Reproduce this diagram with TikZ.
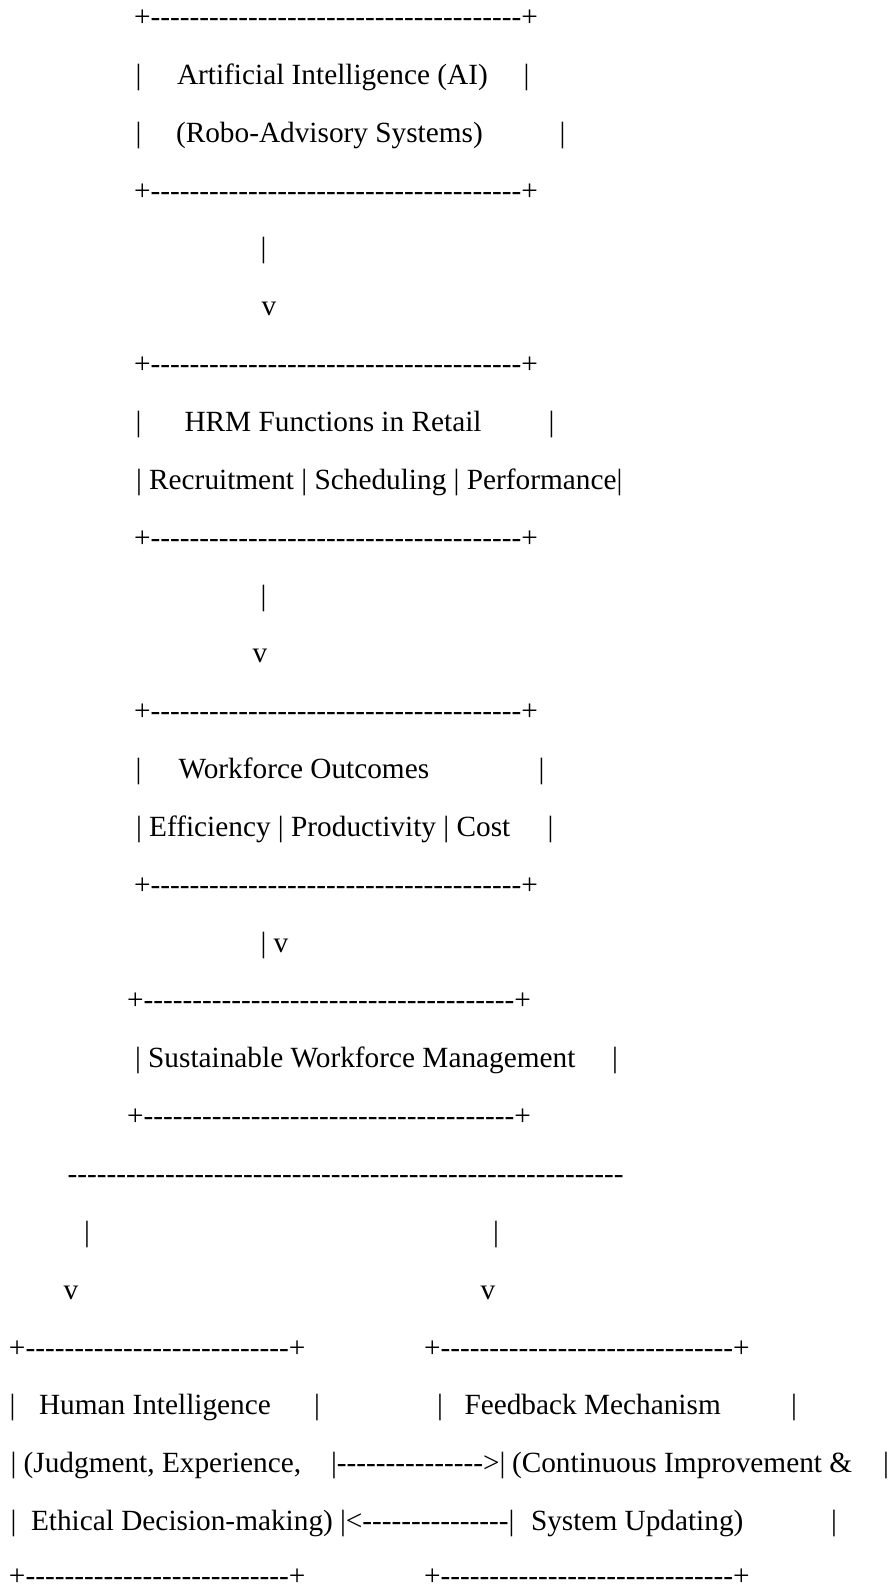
\documentclass[tikz,border=0pt]{standalone}
\usepackage{fontspec}
\setmainfont{Liberation Serif}[Ligatures=TeXOff]

% a run of n hyphens
\newcommand{\dashrow}[1]{\foreach \d in {1,...,#1}{-}}

\tikzset{
  txt/.style={anchor=base west, inner sep=0pt, outer sep=0pt,
    font=\fontsize{29.3}{29.3}\selectfont}
}

\begin{document}
\begin{tikzpicture}[x=1pt, y=-57.85pt]
  \useasboundingbox (0,0) rectangle (888pt,-1584pt);
  \begin{scope}[yshift=31.35pt]
    % AI box
    \node[txt] (aiTop) at (134,1) {+\dashrow{38}+};
    \node[txt] (aiL1) at (135.5,2) {|};
    \node[txt] (aiName) at (177,2) {Artificial Intelligence (AI)};
    \node[txt] (aiR1) at (523.5,2) {|};
    \node[txt] (aiL2) at (135.5,3) {|};
    \node[txt] (aiSub) at (176,3) {(Robo-Advisory Systems)};
    \node[txt] (aiR2) at (559.5,3) {|};
    \node[txt] (aiBot) at (134,4) {+\dashrow{38}+};
    % arrow down
    \node[txt] (arrA) at (260.5,5) {|};
    \node[txt] (arrAv) at (261.5,6) {v};

    % HRM box
    \node[txt] (hrmTop) at (134,7) {+\dashrow{38}+};
    \node[txt] (hrmL1) at (135.5,8) {|};
    \node[txt] (hrmName) at (184.5,8) {HRM Functions in Retail};
    \node[txt] (hrmR1) at (548.5,8) {|};
    \node[txt] (hrmList) at (136,9) {| Recruitment | Scheduling | Performance|};
    \node[txt] (hrmBot) at (134,10) {+\dashrow{38}+};
    % arrow down
    \node[txt] (arrB) at (260.5,11) {|};
    \node[txt] (arrBv) at (252.5,12) {v};

    % outcomes box
    \node[txt] (outTop) at (134,13) {+\dashrow{38}+};
    \node[txt] (outL1) at (135.5,14) {|};
    \node[txt] (outName) at (178.5,14) {Workforce Outcomes};
    \node[txt] (outR1) at (538.5,14) {|};
    \node[txt] (outList) at (136,15) {| Efficiency | Productivity | Cost};
    \node[txt] (outR2) at (547.5,15) {|};
    \node[txt] (outBot) at (134,16) {+\dashrow{38}+};
    % arrow down
    \node[txt] (arrC) at (260.5,17) {| v};

    % sustainable box
    \node[txt] (swmTop) at (127,18) {+\dashrow{38}+};
    \node[txt] (swmName) at (135,19) {| Sustainable Workforce Management};
    \node[txt] (swmR) at (612,19) {|};
    \node[txt] (swmBot) at (127,20) {+\dashrow{38}+};

    % split
    \node[txt] (split) at (67.5,21) {\dashrow{57}};
    \node[txt] (splitL) at (84,22) {|};
    \node[txt] (splitR) at (493,22) {|};
    \node[txt] (splitLv) at (63.5,23) {v};
    \node[txt] (splitRv) at (480.5,23) {v};

    % human box
    \node[txt] (humTop) at (9,24) {+\dashrow{27}+};
    \node[txt] (humL1) at (9.5,25) {|};
    \node[txt] (humName) at (39,25) {Human Intelligence};
    \node[txt] (humR1) at (314,25) {|};
    \node[txt] (humSub1) at (10.5,26) {| (Judgment, Experience,};
    \node[txt] (humL3) at (10.5,27) {|};
    \node[txt] (humSub2) at (31,27) {Ethical Decision-making)};
    \node[txt] (humBot) at (9,27.95) {+\dashrow{27}+};

    % links between the two boxes
    \node[txt] (toFb) at (331,26) {|\dashrow{15}>|};
    \node[txt] (toHum) at (340,27) {|<\dashrow{15}|};

    % feedback box
    \node[txt] (fbTop) at (424,24) {+\dashrow{30}+};
    \node[txt] (fbL1) at (437,25) {|};
    \node[txt] (fbName) at (464.5,25) {Feedback Mechanism};
    \node[txt] (fbR1) at (791,25) {|};
    \node[txt] (fbSub1) at (512,26) {(Continuous Improvement \&};
    \node[txt] (fbR2) at (883,26) {|};
    \node[txt] (fbSub2) at (531,27) {System Updating)};
    \node[txt] (fbR3) at (831,27) {|};
    \node[txt] (fbBot) at (424,27.95) {+\dashrow{30}+};
  \end{scope}
\end{tikzpicture}
\end{document}
